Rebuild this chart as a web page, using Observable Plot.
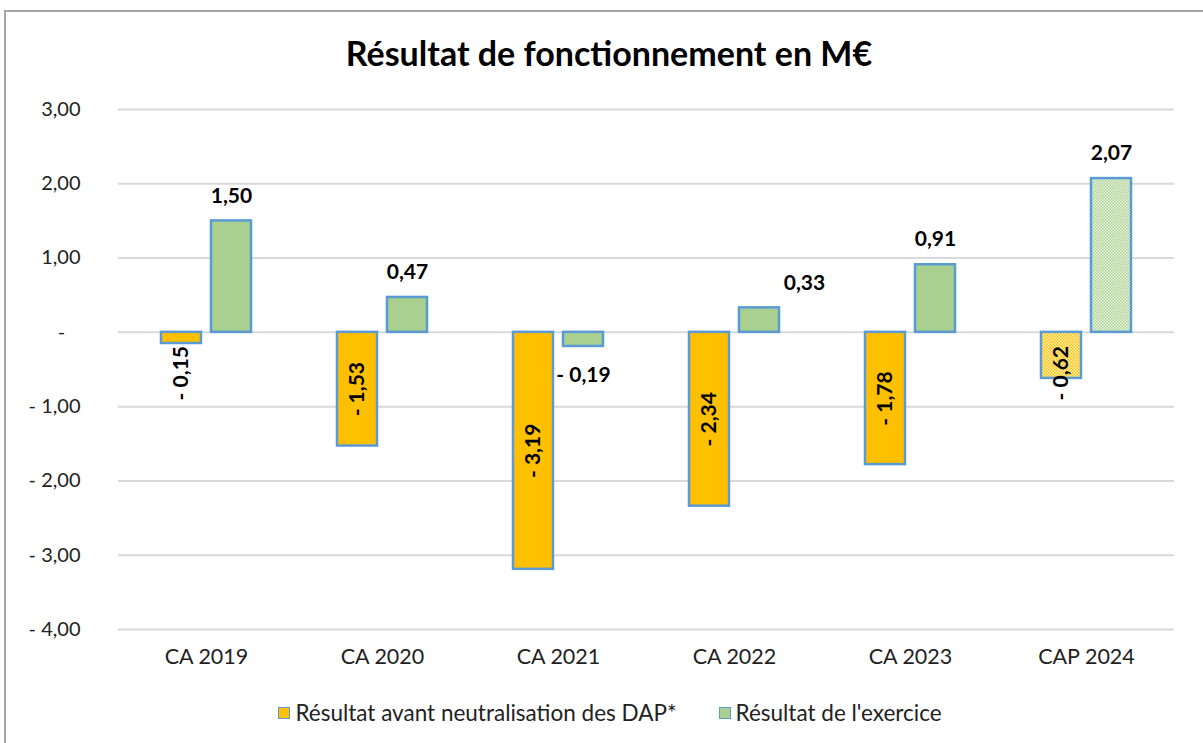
<!DOCTYPE html>
<html><head><meta charset="utf-8">
<script src="https://cdn.jsdelivr.net/npm/d3@7"></script>
<script src="https://cdn.jsdelivr.net/npm/@observablehq/plot@0.6"></script>
<style>
body{margin:0;background:#fff;font-family:Lato,"Open Sans",sans-serif;}
#frame{position:absolute;left:4px;top:10px;width:1300px;height:800px;border-top:2px solid #a6a6a6;border-left:2px solid #a6a6a6;}
#title{position:absolute;top:32px;left:0;width:1218px;text-align:center;font-weight:700;font-size:34px;line-height:42px;color:#000;}
#chart{position:absolute;top:90px;left:0;}
#legend{position:absolute;top:700px;left:0;width:1220px;display:flex;justify-content:center;gap:42px;font-size:22.5px;line-height:26px;color:#222;}
#legend span.item{display:flex;align-items:center;}
.sw{display:inline-block;width:10px;height:10px;border:1.5px solid #5B9BD5;margin-right:5px;}
</style></head>
<body>
<div id="frame"></div>
<div id="title">Résultat de fonctionnement en M€</div>
<div id="chart"></div>
<div id="legend"></div>
<script>
const categories = ["CA 2019","CA 2020","CA 2021","CA 2022","CA 2023","CAP 2024"];
const seriesNames = ["Résultat avant neutralisation des DAP*","Résultat de l'exercice"];
const avantDAP = [-0.15,-1.53,-3.19,-2.34,-1.78,-0.62];
const exercice = [1.50,0.47,-0.19,0.33,0.91,2.07];
const yTicks = [3,2,1,0,-1,-2,-3,-4];
const forecastCategory = "CAP 2024";
const shiftedLabelCategory = "CA 2022";
const seriesColors = ["#FFC000","#A9D08E"];

const rows = [];
categories.forEach((c,i)=>{
  rows.push({cat:c, series:seriesNames[0], value:avantDAP[i], k:0});
  rows.push({cat:c, series:seriesNames[1], value:exercice[i], k:1});
});
const fmtNum = v => (v<0 ? "- " : "") + Math.abs(v).toFixed(2).replace(".", ",");
const fmtTick = d => d===0 ? "-\u00A0\u00A0\u00A0" : fmtNum(d);
const fillFn = d => d.cat===forecastCategory ? (d.k===0 ? "url(#patO)" : "url(#patG)") : seriesColors[d.k];

const orange = rows.filter(d=>d.k===0);
const green = rows.filter(d=>d.k===1);
const labelStyle = {fx:"cat", x:"series", text:d=>fmtNum(d.value), fontWeight:700, fontSize:21, fill:"#000"};

const chart = Plot.plot({
  width:1203, height:600,
  marginTop:19, marginBottom:61, marginLeft:118, marginRight:29,
  style:{fontFamily:"Lato, sans-serif", fontSize:"20px", color:"#222", background:"transparent"},
  fx:{domain:categories, padding:0, axis:null},
  x:{domain:seriesNames, axis:null, paddingInner:0.2, paddingOuter:0.86},
  y:{domain:[-4,3], ticks:yTicks, tickFormat:fmtTick, tickSize:0, tickPadding:38, label:null},
  color:{type:"identity"},
  marks:[
    Plot.ruleY(yTicks, {stroke:"#d9d9d9", strokeWidth:2}),
    Plot.barY(rows, {fx:"cat", x:"series", y:"value", fill:fillFn, stroke:"#5B9BD5", strokeWidth:2.5}),
    Plot.text(orange, {...labelStyle, y:d=>Math.abs(d.value)>=1 ? d.value/2 : Math.min(d.value/2,-0.55), rotate:-90}),
    Plot.text(green.filter(d=>d.value>=0 && d.cat!==shiftedLabelCategory), {...labelStyle, y:"value", dy:-25}),
    Plot.text(green.filter(d=>d.value>=0 && d.cat===shiftedLabelCategory), {...labelStyle, y:"value", dy:-25, dx:45}),
    Plot.text(green.filter(d=>d.value<0), {...labelStyle, y:"value", dy:29}),
    Plot.axisFx({anchor:"bottom", tickSize:0, tickPadding:19, label:null, fontSize:21.5, fill:"#222"})
  ]
});
const defs = d3.select(chart).insert("defs", ":first-child");
function pat(id, bg, fg){
  const p = defs.append("pattern").attr("id",id).attr("patternUnits","userSpaceOnUse").attr("width",3).attr("height",3);
  p.append("rect").attr("width",3).attr("height",3).attr("fill",bg);
  p.append("rect").attr("width",1.5).attr("height",1.5).attr("fill",fg);
  p.append("rect").attr("x",1.5).attr("y",1.5).attr("width",1.5).attr("height",1.5).attr("fill",fg);
}
pat("patO","#FFF0C0","#FFC000");
pat("patG","#EEF6E8","#A9D08E");
document.getElementById("chart").appendChild(chart);

const legend = document.getElementById("legend");
seriesNames.forEach((s,i)=>{
  const it = document.createElement("span"); it.className="item";
  const sw = document.createElement("span"); sw.className="sw"; sw.style.background=seriesColors[i];
  it.appendChild(sw); it.appendChild(document.createTextNode(s));
  legend.appendChild(it);
});
</script>
</body></html>
